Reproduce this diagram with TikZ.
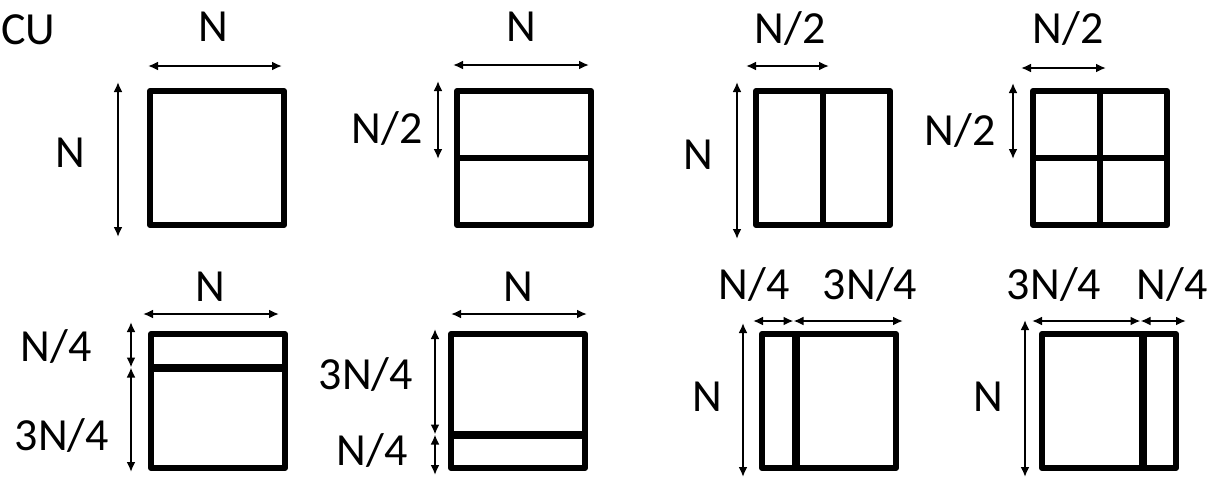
\documentclass[tikz,border=0pt]{standalone}
\usepackage{fontspec}
\setmainfont{Carlito}
\usetikzlibrary{arrows.meta, calc}

\tikzset{
  blk/.style={draw, line width=3pt, line join=round, minimum size=67pt, inner sep=0pt, outer sep=0pt},
  split/.style={line width=3pt},
  splitthick/.style={line width=4pt},
  dim/.style={{Latex[length=5pt,width=4.5pt]}-{Latex[length=5pt,width=4.5pt]}, line width=1pt},
  lbl/.style={font=\fontsize{23}{27}\selectfont, inner sep=0pt}
}

\begin{document}
\begin{tikzpicture}[x=0.5pt, y=-0.5pt]
  \useasboundingbox (0,0) rectangle (1221,477);
  \node[lbl, anchor=west] (cu) at (1,30) {CU};

  % blocks, top row
  \node[blk] (b1) at (217,158) {};
  \node[blk] (b2) at (524,158) {};
  \node[blk] (b3) at (823,158) {};
  \node[blk] (b4) at (1100,158) {};
  % blocks, bottom row
  \node[blk] (b5) at (218,401) {};
  \node[blk] (b6) at (518,401) {};
  \node[blk] (b7) at (829,401) {};
  \node[blk] (b8) at (1109,401) {};

  % split points
  \coordinate (s5w) at ($(b5.north west)!0.25!(b5.south west)$);
  \coordinate (s5e) at ($(b5.north east)!0.25!(b5.south east)$);
  \coordinate (s6w) at ($(b6.north west)!0.75!(b6.south west)$);
  \coordinate (s6e) at ($(b6.north east)!0.75!(b6.south east)$);
  \coordinate (s7n) at ($(b7.north west)!0.25!(b7.north east)$);
  \coordinate (s7s) at ($(b7.south west)!0.25!(b7.south east)$);
  \coordinate (s8n) at ($(b8.north west)!0.75!(b8.north east)$);
  \coordinate (s8s) at ($(b8.south west)!0.75!(b8.south east)$);

  % splits
  \draw[split] (b2.west) -- (b2.east);
  \draw[split] (b3.north) -- (b3.south);
  \draw[split] (b4.west) -- (b4.east) (b4.north) -- (b4.south);
  \draw[splitthick] (s5w) -- (s5e);
  \draw[splitthick] (s6w) -- (s6e);
  \draw[splitthick] (s7n) -- (s7s);
  \draw[splitthick] (s8n) -- (s8s);

  % dimensions, top row
  \draw[dim] ([xshift=-1pt,yshift=12.5pt]b1.north west) -- ([xshift=-1pt,yshift=12.5pt]b1.north east);
  \draw[dim] ([xshift=-16pt,yshift=4.5pt]b1.north west) -- ([xshift=-16pt,yshift=-6pt]b1.south west);
  \draw[dim] ([xshift=-2pt,yshift=13pt]b2.north west) -- ([xshift=-1pt,yshift=13pt]b2.north east);
  \draw[dim] ([xshift=-9.5pt,yshift=5pt]b2.north west) -- ([xshift=-9.5pt,yshift=-0.5pt]b2.west);
  \draw[dim] ([xshift=-5pt,yshift=12.5pt]b3.north west) -- ([xshift=3pt,yshift=12.5pt]b3.north);
  \draw[dim] ([xshift=-9.5pt,yshift=4.5pt]b3.north west) -- ([xshift=-9.5pt,yshift=-7pt]b3.south west);
  \draw[dim] ([xshift=-6pt,yshift=11.5pt]b4.north west) -- ([xshift=3pt,yshift=11.5pt]b4.north);
  \draw[dim] ([xshift=-10pt,yshift=4pt]b4.north west) -- ([xshift=-10pt,yshift=-0.5pt]b4.west);

  % dimensions, bottom row
  \draw[dim] ([xshift=-4pt,yshift=10pt]b5.north west) -- ([xshift=-3pt,yshift=10pt]b5.north east);
  \draw[dim] ([xshift=-10pt,yshift=6pt]b5.north west) -- ([xshift=-10pt]s5w);
  \draw[dim] ([xshift=-10pt]s5w) -- ([xshift=-10pt,yshift=-2pt]b5.south west);
  \draw[dim] ([yshift=10pt]b6.north west) -- ([xshift=1pt,yshift=10pt]b6.north east);
  \draw[dim] ([xshift=-8pt,yshift=2.5pt]b6.north west) -- ([xshift=-8pt]s6w);
  \draw[dim] ([xshift=-8pt]s6w) -- ([xshift=-8pt,yshift=-3.5pt]b6.south west);
  \draw[dim] ([xshift=-4.5pt,yshift=6.5pt]b7.north west) -- ([xshift=-1pt,yshift=6.5pt]s7n);
  \draw[dim] ([xshift=-1pt,yshift=6.5pt]s7n) -- ([xshift=3.5pt,yshift=6.5pt]b7.north east);
  \draw[dim] ([xshift=-9.5pt,yshift=5.5pt]b7.north west) -- ([xshift=-9.5pt,yshift=-4.5pt]b7.south west);
  \draw[dim] ([xshift=-5pt,yshift=6.5pt]b8.north west) -- ([xshift=-1pt,yshift=6.5pt]s8n);
  \draw[dim] ([xshift=-1pt,yshift=6.5pt]s8n) -- ([xshift=5pt,yshift=6.5pt]b8.north east);
  \draw[dim] ([xshift=-8.5pt,yshift=7pt]b8.north west) -- ([xshift=-8.5pt,yshift=-4.5pt]b8.south west);

  % labels, top row
  \node[lbl] (w1) at (213,27) {N};
  \node[lbl] (h1) at (70,153) {N};
  \node[lbl] (w2) at (521,27) {N};
  \node[lbl] (h2) at (387,129) {N/2};
  \node[lbl] (w3) at (790,29) {N/2};
  \node[lbl] (h3) at (698,155) {N};
  \node[lbl] (w4) at (1068,29) {N/2};
  \node[lbl] (h4) at (960,131) {N/2};

  % labels, bottom row
  \node[lbl] (w5) at (210,287) {N};
  \node[lbl] (h5a) at (56,347) {N/4};
  \node[lbl] (h5b) at (62,435) {3N/4};
  \node[lbl] (w6) at (518,287) {N};
  \node[lbl] (h6a) at (366,375) {3N/4};
  \node[lbl] (h6b) at (372,450) {N/4};
  \node[lbl] (w7a) at (754,285) {N/4};
  \node[lbl] (w7b) at (870,285) {3N/4};
  \node[lbl] (h7) at (707,397) {N};
  \node[lbl] (w8a) at (1054,285) {3N/4};
  \node[lbl] (w8b) at (1172,285) {N/4};
  \node[lbl] (h8) at (988,397) {N};
\end{tikzpicture}
\end{document}
